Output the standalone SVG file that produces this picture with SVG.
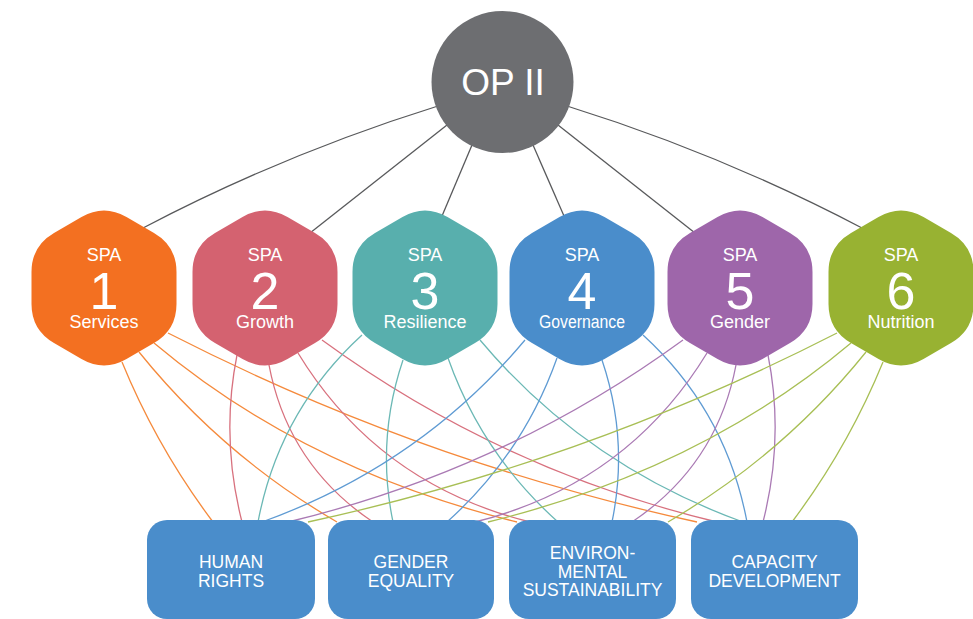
<svg xmlns="http://www.w3.org/2000/svg" xmlns:xlink="http://www.w3.org/1999/xlink" width="973" height="619" viewBox="0 0 973 619">
<style>
.t{font-family:"Liberation Sans",Arial,sans-serif;fill:#fff;text-anchor:middle}
.spa{font-size:18px}
.num{font-size:52px}
.lbl{font-size:18px}
.box{font-size:17.5px}
.k{fill:none;stroke:#58595B;stroke-width:1.3}
.c{fill:none;stroke-width:1.3}
.o{stroke:#F58A3C}
.p{stroke:#D8717E}
.te{stroke:#6BB8B5}
.b{stroke:#5F9BD3}
.pu{stroke:#AA7AB4}
.g{stroke:#A8BF55}
.bx{fill:#4A8DCB}
</style>
<defs>
<path id="hex" d="M-22.5,217 Q0,204 22.5,217 L50,233 Q72.5,246 72.5,272 L72.5,304 Q72.5,330 50,343 L22.5,359 Q0,372 -22.5,359 L-50,343 Q-72.5,330 -72.5,304 L-72.5,272 Q-72.5,246 -50,233 Z"/>
</defs>
<rect width="973" height="619" fill="#fff"/>
<g id="connectors">
<path class="k" d="M438,106 Q284,154 143,228"/>
<path class="k" d="M447,125 L310,233"/>
<path class="k" d="M472,145 L442,216"/>
<path class="k" d="M533,145 L564,216"/>
<path class="k" d="M558,125 L695,233"/>
<path class="k" d="M567,106 Q721,154 862,228"/>
<path class="c o" d="M122,362 Q157,447.5 213,522"/>
<path class="c o" d="M139,352 Q222,455 337,522"/>
<path class="c o" d="M154,343 Q305,470 517,522"/>
<path class="c o" d="M168,333 Q420,462 697,522"/>
<path class="c p" d="M237,355 Q220.5,438 242,522"/>
<path class="c p" d="M269,365 Q288,465 373,522"/>
<path class="c p" d="M298,353 Q378,484 530,522"/>
<path class="c p" d="M322,340 Q500,470 717,522"/>
<path class="c te" d="M362,335 Q279,411 258,522"/>
<path class="c te" d="M403,360 Q376,440 393,522"/>
<path class="c te" d="M448,358 Q482,454 558,522"/>
<path class="c te" d="M480,340 Q585,465 743,522"/>
<path class="c b" d="M643,335 Q726,411 747,522"/>
<path class="c b" d="M602,360 Q629,440 612,522"/>
<path class="c b" d="M557,358 Q523,454 447,522"/>
<path class="c b" d="M525,340 Q420,465 262,522"/>
<path class="c pu" d="M768,355 Q784.5,438 763,522"/>
<path class="c pu" d="M736,365 Q717,465 632,522"/>
<path class="c pu" d="M707,353 Q627,484 475,522"/>
<path class="c pu" d="M683,340 Q505,470 288,522"/>
<path class="c g" d="M883,362 Q848,447.5 792,522"/>
<path class="c g" d="M866,352 Q783,455 668,522"/>
<path class="c g" d="M851,343 Q700,470 488,522"/>
<path class="c g" d="M837,333 Q585,462 308,522"/>
</g>
<g id="op2">
<circle cx="502.5" cy="82" r="71" fill="#6D6E71"/>
<text class="t" x="503" y="95" font-size="37">OP II</text>
</g>
<g id="spa1" transform="translate(104,0)">
<use xlink:href="#hex" fill="#F37021"/>
<text class="t spa" x="0" y="261">SPA</text>
<text class="t num" x="0" y="309">1</text>
<text class="t lbl" x="0" y="328">Services</text>
</g>
<g id="spa2" transform="translate(265,0)">
<use xlink:href="#hex" fill="#D46270"/>
<text class="t spa" x="0" y="261">SPA</text>
<text class="t num" x="0" y="309">2</text>
<text class="t lbl" x="0" y="328">Growth</text>
</g>
<g id="spa3" transform="translate(425,0)">
<use xlink:href="#hex" fill="#58AFAD"/>
<text class="t spa" x="0" y="261">SPA</text>
<text class="t num" x="0" y="309">3</text>
<text class="t lbl" x="0" y="328">Resilience</text>
</g>
<g id="spa4" transform="translate(582,0)">
<use xlink:href="#hex" fill="#4A8DCB"/>
<text class="t spa" x="0" y="261">SPA</text>
<text class="t num" x="0" y="309">4</text>
<text class="t lbl" x="0" y="328" textLength="86" lengthAdjust="spacingAndGlyphs">Governance</text>
</g>
<g id="spa5" transform="translate(740,0)">
<use xlink:href="#hex" fill="#9E66AA"/>
<text class="t spa" x="0" y="261">SPA</text>
<text class="t num" x="0" y="309">5</text>
<text class="t lbl" x="0" y="328">Gender</text>
</g>
<g id="spa6" transform="translate(901,0)">
<use xlink:href="#hex" fill="#98B232"/>
<text class="t spa" x="0" y="261">SPA</text>
<text class="t num" x="0" y="309">6</text>
<text class="t lbl" x="0" y="328">Nutrition</text>
</g>
<g id="human-rights">
<rect class="bx" x="147" y="520" width="168" height="99" rx="20"/>
<text class="t box" x="231" y="568">HUMAN</text>
<text class="t box" x="231" y="587">RIGHTS</text>
</g>
<g id="gender-equality">
<rect class="bx" x="328" y="520" width="166" height="99" rx="20"/>
<text class="t box" x="411" y="568">GENDER</text>
<text class="t box" x="411" y="587">EQUALITY</text>
</g>
<g id="environmental-sustainability">
<rect class="bx" x="509" y="520" width="167" height="99" rx="20"/>
<text class="t box" x="592.5" y="559">ENVIRON-</text>
<text class="t box" x="592.5" y="578">MENTAL</text>
<text class="t box" x="592.5" y="596">SUSTAINABILITY</text>
</g>
<g id="capacity-development">
<rect class="bx" x="691" y="520" width="167" height="99" rx="20"/>
<text class="t box" x="774.5" y="568">CAPACITY</text>
<text class="t box" x="774.5" y="587">DEVELOPMENT</text>
</g>
</svg>
